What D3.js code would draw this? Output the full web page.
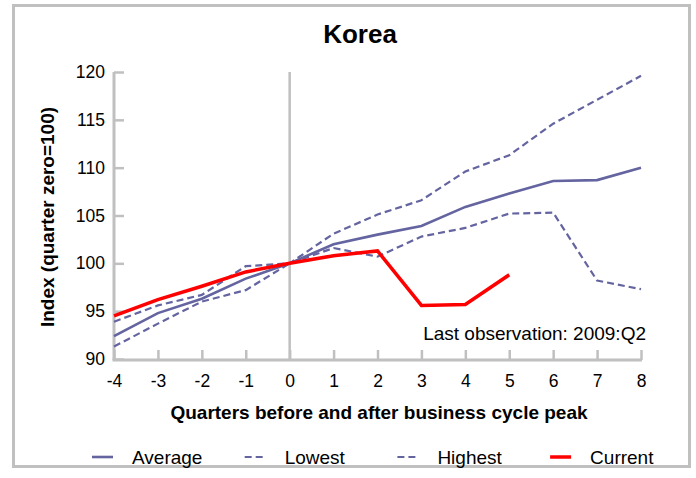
<!DOCTYPE html>
<html><head><meta charset="utf-8">
<script src="https://cdn.jsdelivr.net/npm/d3@7"></script>
<style>body{margin:0;background:#fff}svg{display:block}text{font-family:"Liberation Sans",Arial,sans-serif}</style>
</head><body>
<script>
const quarters = [-4,-3,-2,-1,0,1,2,3,4,5,6,7,8];
const average = [92.4,94.8,96.3,98.4,100,102.0,103.0,103.9,105.9,107.3,108.6,108.7,110.0];
const lowest  = [91.3,93.7,96.0,97.2,100,101.6,100.7,102.8,103.7,105.2,105.3,98.2,97.3];
const highest = [93.9,95.6,96.7,99.7,100,103.1,105.1,106.6,109.6,111.3,114.6,117.1,119.6];
const current = [94.5,96.2,97.6,99.1,100,100.8,101.3,95.6,95.7,98.8];
const yTicks = [90,95,100,105,110,115,120];
const legendLabels = ["Average","Lowest","Highest","Current"];

const W=696,H=478;
const svg=d3.select("body").append("svg").attr("width",W).attr("height",H);
const blue="#6464a0", red="#ff0000", gray="#c0c0c0";

svg.append("rect").attr("x",13.5).attr("y",5.5).attr("width",676).attr("height",461)
  .attr("fill","none").attr("stroke",gray).attr("stroke-width",3);

const x=d3.scaleLinear().domain([-4,8]).range([114,641]);
const y=d3.scaleLinear().domain([90,120]).range([359,72]);

svg.append("text").attr("x",360).attr("y",43).attr("text-anchor","middle")
  .attr("font-size",26).attr("font-weight","bold").text("Korea");

// y axis
const ya=svg.append("g").attr("transform","translate(114,0)")
  .call(d3.axisRight(y).tickValues(yTicks).tickSize(10).tickFormat(d=>String(d)));
ya.select(".domain").attr("stroke",gray).attr("stroke-width",3).attr("d","M0,72V360");
ya.selectAll(".tick line").attr("stroke",gray).attr("stroke-width",2.5);
ya.selectAll(".tick text").attr("x",-9).attr("text-anchor","end").attr("font-size",17.5).attr("fill","#000");

// x axis
const xa=svg.append("g").attr("transform","translate(0,360)")
  .call(d3.axisTop(x).tickValues(quarters).tickSize(10).tickFormat(d=>String(d)));
xa.select(".domain").attr("stroke",gray).attr("stroke-width",3).attr("d","M112.5,0H642");
xa.selectAll(".tick line").attr("stroke",gray).attr("stroke-width",2.5);
xa.selectAll(".tick text").attr("y",27).attr("font-size",17.5).attr("fill","#000").attr("dy",0);

// zero line
svg.append("line").attr("x1",x(0)).attr("x2",x(0)).attr("y1",y(120)).attr("y2",y(90))
  .attr("stroke",gray).attr("stroke-width",2.5);

const line=d3.line().x((d,i)=>x(quarters[i])).y(d=>y(d));
svg.append("path").datum(lowest).attr("d",line).attr("fill","none").attr("stroke",blue).attr("stroke-width",2.2).attr("stroke-dasharray","7,4");
svg.append("path").datum(highest).attr("d",line).attr("fill","none").attr("stroke",blue).attr("stroke-width",2.2).attr("stroke-dasharray","7,4");
svg.append("path").datum(average).attr("d",line).attr("fill","none").attr("stroke",blue).attr("stroke-width",2.6);
svg.append("path").datum(current).attr("d",line).attr("fill","none").attr("stroke",red).attr("stroke-width",3.5);

svg.append("text").attr("x",646).attr("y",340).attr("text-anchor","end").attr("font-size",19).text("Last observation: 2009:Q2");

svg.append("text").attr("x",379).attr("y",419).attr("text-anchor","middle").attr("font-size",19).attr("font-weight","bold")
  .text("Quarters before and after business cycle peak");
svg.append("text").attr("transform","translate(54,217) rotate(-90)").attr("text-anchor","middle").attr("font-size",19).attr("font-weight","bold")
  .text("Index (quarter zero=100)");

// legend
const styles=[{c:blue,w:2.6,d:null},{c:blue,w:2.2,d:"7,4"},{c:blue,w:2.2,d:"7,4"},{c:red,w:3.5,d:null}];
legendLabels.forEach((t,i)=>{
  const lx=92+i*152.7, ly=457;
  svg.append("line").attr("x1",lx).attr("x2",lx+21).attr("y1",ly).attr("y2",ly)
    .attr("stroke",styles[i].c).attr("stroke-width",styles[i].w).attr("stroke-dasharray",styles[i].d);
  svg.append("text").attr("x",lx+40).attr("y",ly+7).attr("font-size",19).text(t);
});
</script>
</body></html>
